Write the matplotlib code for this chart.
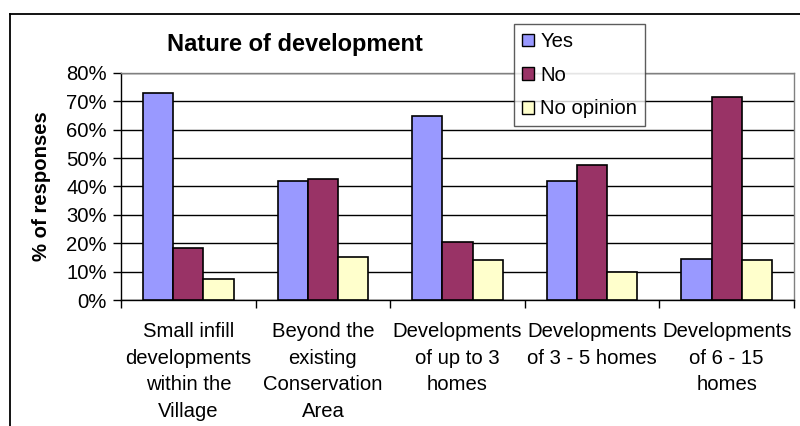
import matplotlib
matplotlib.use("Agg")
import matplotlib.pyplot as plt
from matplotlib.lines import Line2D
from matplotlib.patches import Patch
from matplotlib.ticker import PercentFormatter, FixedLocator

categories = [
    "Small infill\ndevelopments\nwithin the\nVillage",
    "Beyond the\nexisting\nConservation\nArea",
    "Developments\nof up to 3\nhomes",
    "Developments\nof 3 - 5 homes",
    "Developments\nof 6 - 15\nhomes",
]
series_names = ["Yes", "No", "No opinion"]
yes = [0.73, 0.42, 0.65, 0.42, 0.145]
no = [0.185, 0.425, 0.205, 0.475, 0.715]
no_opinion = [0.075, 0.15, 0.14, 0.10, 0.14]
colors = ["#9999FF", "#993366", "#FFFFCC"]

plt.rcParams["font.family"] = ["Liberation Sans", "DejaVu Sans"]
fs = 14.6

fig = plt.figure(figsize=(8, 4.26), dpi=100)
ax = fig.add_axes([121 / 800, 1 - 300 / 426, (794 - 121) / 800, (300 - 73) / 426])

x = list(range(len(categories)))
w = 0.224
for i, (vals, col) in enumerate(zip([yes, no, no_opinion], colors)):
    ax.bar([xi + (i - 1) * w for xi in x], vals, width=w, color=col,
           edgecolor="black", linewidth=1.2, zorder=3)

ax.set_xlim(-0.5, len(categories) - 0.5)
ax.set_ylim(0, 0.8)
ax.set_yticks([i / 10 for i in range(9)])
ax.yaxis.set_major_formatter(PercentFormatter(1.0, decimals=0))
ax.grid(axis="y", color="black", linewidth=1, zorder=0)

ax.xaxis.set_major_locator(FixedLocator([i - 0.5 for i in range(len(categories) + 1)]))
ax.xaxis.set_minor_locator(FixedLocator(x))
ax.set_xticklabels([])
ax.set_xticklabels(categories, minor=True, fontsize=fs, linespacing=1.5)
ax.tick_params(axis="x", which="major", direction="out", length=6, width=1, color="black")
ax.tick_params(axis="x", which="minor", length=0, pad=16)
ax.tick_params(axis="y", direction="out", length=6, width=1, labelsize=fs, pad=4)

for side in ["top", "right"]:
    ax.spines[side].set_color("#808080")
    ax.spines[side].set_linewidth(1)
for side in ["left", "bottom"]:
    ax.spines[side].set_color("black")
    ax.spines[side].set_linewidth(1)

ax.set_ylabel("% of responses", fontsize=fs, fontweight="bold")
ax.yaxis.set_label_coords(-0.104, 0.5)

fig.text(295 / 800, 1 - 45 / 426, "Nature of development", fontsize=17,
         fontweight="bold", ha="center", va="center")

handles = [Patch(facecolor=c, edgecolor="black", linewidth=1) for c in colors]
leg = fig.legend(handles, series_names, loc="upper left",
                 bbox_to_anchor=(514 / 800, 1 - 24 / 426), fontsize=fs,
                 frameon=True, fancybox=False, handlelength=0.6, handleheight=0.6,
                 handletextpad=0.3, labelspacing=0.72, borderpad=0.4, borderaxespad=0)
leg.get_frame().set_edgecolor("#333333")
leg.get_frame().set_linewidth(1)

# outer chart frame (cropped on right and bottom)
fig.add_artist(Line2D([10 / 800, 10 / 800], [0, 1 - 14 / 426], transform=fig.transFigure,
                      color="black", linewidth=1.3))
fig.add_artist(Line2D([10 / 800, 1], [1 - 14 / 426, 1 - 14 / 426], transform=fig.transFigure,
                      color="black", linewidth=1.3))

fig.savefig("out.png", dpi=100)
